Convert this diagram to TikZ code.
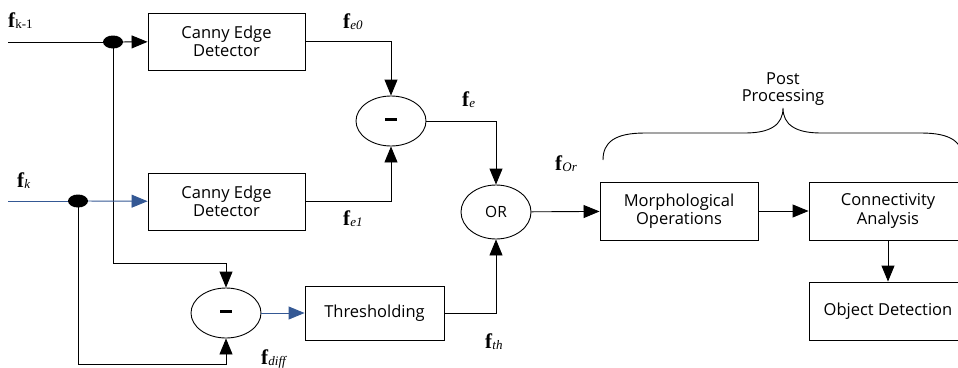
\documentclass[tikz,border=0pt]{standalone}
\usepackage{fontspec}
\setmainfont{Open Sans}
\newfontfamily\symfont{Liberation Serif}
\usetikzlibrary{arrows.meta,shapes.geometric}

\definecolor{flowblue}{RGB}{52,88,148}

% signal name: bold f with a smaller subscript set on the baseline
\newcommand{\sig}[1]{{\symfont\fontsize{21}{21}\selectfont\textbf{f}\fontsize{13}{13}\selectfont\raisebox{-1pt}{#1}}}

\tikzset{
  x=1pt, y=-1pt,
  wire/.style={line width=0.9pt, black},
  arr/.style={wire, -{Triangle[length=16pt,width=13pt]}},
  bluewire/.style={line width=0.9pt, flowblue},
  bluearr/.style={bluewire, -{Triangle[length=16pt,width=13pt]}},
  block/.style={draw, line width=0.9pt, rectangle, minimum width=157pt, minimum height=57pt,
    align=center, inner sep=2pt, font=\fontsize{16.5}{18.5}\selectfont},
  oper/.style={draw, line width=0.9pt, ellipse, minimum width=70pt, minimum height=50pt,
    inner sep=0pt, font=\fontsize{15.5}{17}\selectfont},
  junction/.style={fill=black, ellipse, minimum width=20pt, minimum height=13pt, inner sep=0pt},
  siglabel/.style={anchor=base west, inner sep=0pt},
}

\begin{document}
\begin{tikzpicture}
\useasboundingbox (0,0) rectangle (958,367);
\clip (0,0) rectangle (958,367);

% inputs and junctions
\coordinate (in1) at (8,42);
\coordinate (in2) at (8,201);
\coordinate (j1) at (113,42);
\coordinate (j2) at (78,201);

% processing blocks
\node[block] (can1) at (226.5,41.5) {Canny Edge\\Detector};
\node[block] (can2) at (226.5,201.5) {Canny Edge\\Detector};
\node[block, minimum width=139pt, minimum height=54pt] (thr) at (374.5,313) {Thresholding};
\node[block, minimum width=158pt, minimum height=58pt] (morph) at (679,211) {Morphological\\Operations};
\node[block, minimum width=158pt, minimum height=58pt] (conn) at (888,211) {Connectivity\\Analysis};
\node[block, minimum width=158pt, minimum height=58pt] (obj) at (888,311) {Object Detection};

% operators
\node[oper] (sub1) at (391,121) {\rule[3pt]{12pt}{3.5pt}};
\node[oper] (sub2) at (226,313) {\rule[3pt]{12pt}{3.5pt}};
\node[oper, minimum height=54pt] (or) at (496,212) {OR};

% signal names
\node[siglabel] (lk1) at (8,27) {\sig{k-1}};
\node[siglabel] (lk) at (17,187) {\sig{\itshape k}};
\node[siglabel] (le0) at (343,28) {\sig{\itshape e0}};
\node[siglabel] (le) at (462,106) {\sig{\itshape e}};
\node[siglabel] (le1) at (343,225) {\sig{\itshape e1}};
\node[siglabel] (lor) at (555,170) {\sig{\itshape Or}};
\node[siglabel] (lth) at (485,348) {\sig{\itshape th}};
\node[siglabel] (ldiff) at (261,364) {\sig{\itshape diff}};

% previous frame path
\draw[wire] (in1) -- (j1);
\draw[arr] (j1) -- (can1);
\draw[arr] (j1) -- ++(0,221) -| (sub2.north);

% current frame path
\draw[bluewire] (in2) -- (j2);
\draw[bluearr] (j2) -- (can2);
\draw[arr] (j2) -- ++(0,163) -| (sub2.south);

% branch points drawn over the wires
\node[junction] (dot1) at (j1) {};
\node[junction] (dot2) at (j2) {};

% edge difference
\draw[arr] (can1) -| (sub1.north);
\draw[arr] (can2) -| (sub1.south);
\draw[arr] (sub1) -| (or.north);

% frame difference
\draw[bluearr] (sub2) -- (thr);
\draw[arr] (thr) -| (or.south);

% post processing chain
\draw[arr] (or) -- (morph);
\draw[arr] (morph) -- (conn);
\draw[arr] (conn) -- (obj);

% brace over the post processing stage
\draw[line width=0.9pt] (603,160) .. controls (603,142) and (615,133) .. (645,133)
  -- (745,133) .. controls (770,133) and (783,125) .. (783,108)
  .. controls (783,125) and (796,133) .. (821,133)
  -- (921,133) .. controls (951,133) and (963,142) .. (963,160);
\node[align=center, font=\fontsize{16.5}{17}\selectfont] (post) at (783,89) {Post\\Processing};
\end{tikzpicture}
\end{document}
